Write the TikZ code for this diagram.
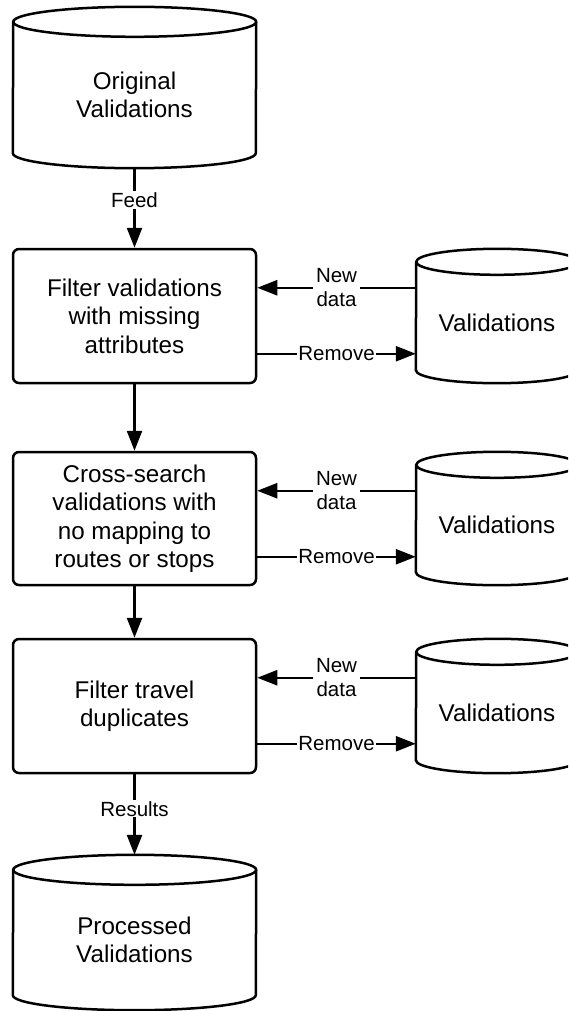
\documentclass[tikz,border=0pt]{standalone}
\usepackage{fontspec}
\setmainfont{Liberation Sans}
\usetikzlibrary{arrows.meta}

% Outline of a vertical drum around node #1: x radius #2, end-ellipse y radius #3.
% The node spans from the centre of the top ellipse down to the lowest point of the bottom arc.
\newcommand\drumshape[3]{%
  \draw[outline] ([yshift=#3pt]#1.south west)
    arc[start angle=180,end angle=360,x radius=#2,y radius=#3]
    -- (#1.north east)
    arc[start angle=0,end angle=180,x radius=#2,y radius=#3]
    -- cycle;
  \draw[outline] (#1.north east)
    arc[start angle=0,end angle=-180,x radius=#2,y radius=#3];
}

\begin{document}
\begin{tikzpicture}[x=1pt,y=1pt,
  outline/.style={line width=2.5pt,line join=round},
  stepbox/.style={draw,outline,rounded corners=6pt,minimum width=243pt,
    minimum height=134pt,inner sep=0pt,align=center,
    font=\fontsize{24.2}{28.5}\selectfont},
  drumtext/.style={inner sep=0pt,align=center,
    font=\fontsize{24.2}{28.5}\selectfont},
  arr/.style={outline,-{Triangle[length=20pt,width=15pt]}},
  lbl/.style={fill=white,inner xsep=3pt,inner ysep=1pt,align=center,
    font=\fontsize{20.5}{24}\selectfont}
]
\useasboundingbox (0,0) rectangle (568,-1011);
\clip (0,0) rectangle (568,-1011);

% main column
\node[drumtext,minimum width=243pt,minimum height=146pt] (orig) at (134.5,-95) {Original\\Validations};
\node[stepbox] (f1) at (134.5,-316) {Filter validations\\with missing\\attributes};
\node[stepbox,minimum height=133pt] (f2) at (134.5,-518.5) {Cross-search\\validations with\\no mapping to\\routes or stops};
\node[stepbox] (f3) at (134.5,-706) {Filter travel\\duplicates};
\node[drumtext,minimum width=243pt,minimum height=140pt] (proc) at (134.5,-940) {Processed\\Validations};

% side stores
\node[drumtext,minimum width=162pt,minimum height=121pt] (va) at (497,-322.5) {Validations};
\node[drumtext,minimum width=162pt,minimum height=120pt] (vb) at (497,-525) {Validations};
\node[drumtext,minimum width=162pt,minimum height=121pt] (vc) at (497,-712.5) {Validations};

\drumshape{orig}{121.5}{15}
\drumshape{proc}{121.5}{15}
\drumshape{va}{81}{13}
\drumshape{vb}{81}{13}
\drumshape{vc}{81}{13}

% vertical flow
\draw[arr] (orig.south) -- node[lbl,pos=0.4]{Feed} (f1.north);
\draw[arr] (f1.south) -- (f2.north);
\draw[arr] (f2.south) -- (f3.north);
\coordinate (proctop) at ([yshift=15pt]proc.north);
\draw[arr] (f3.south) -- node[lbl,pos=0.43]{Results} (proctop);

% exchanges with the side stores
\foreach \b/\s in {f1/va,f2/vb,f3/vc}{
  \coordinate (in-\b) at ([yshift=-40pt]\b.north east);
  \coordinate (out-\b) at ([yshift=-106pt]\b.north east);
  \draw[arr] (\s.west |- in-\b) -- node[lbl]{New\\data} (in-\b);
  \draw[arr] (out-\b) -- node[lbl,inner xsep=1pt]{Remove} (\s.west |- out-\b);
}
\end{tikzpicture}
\end{document}
